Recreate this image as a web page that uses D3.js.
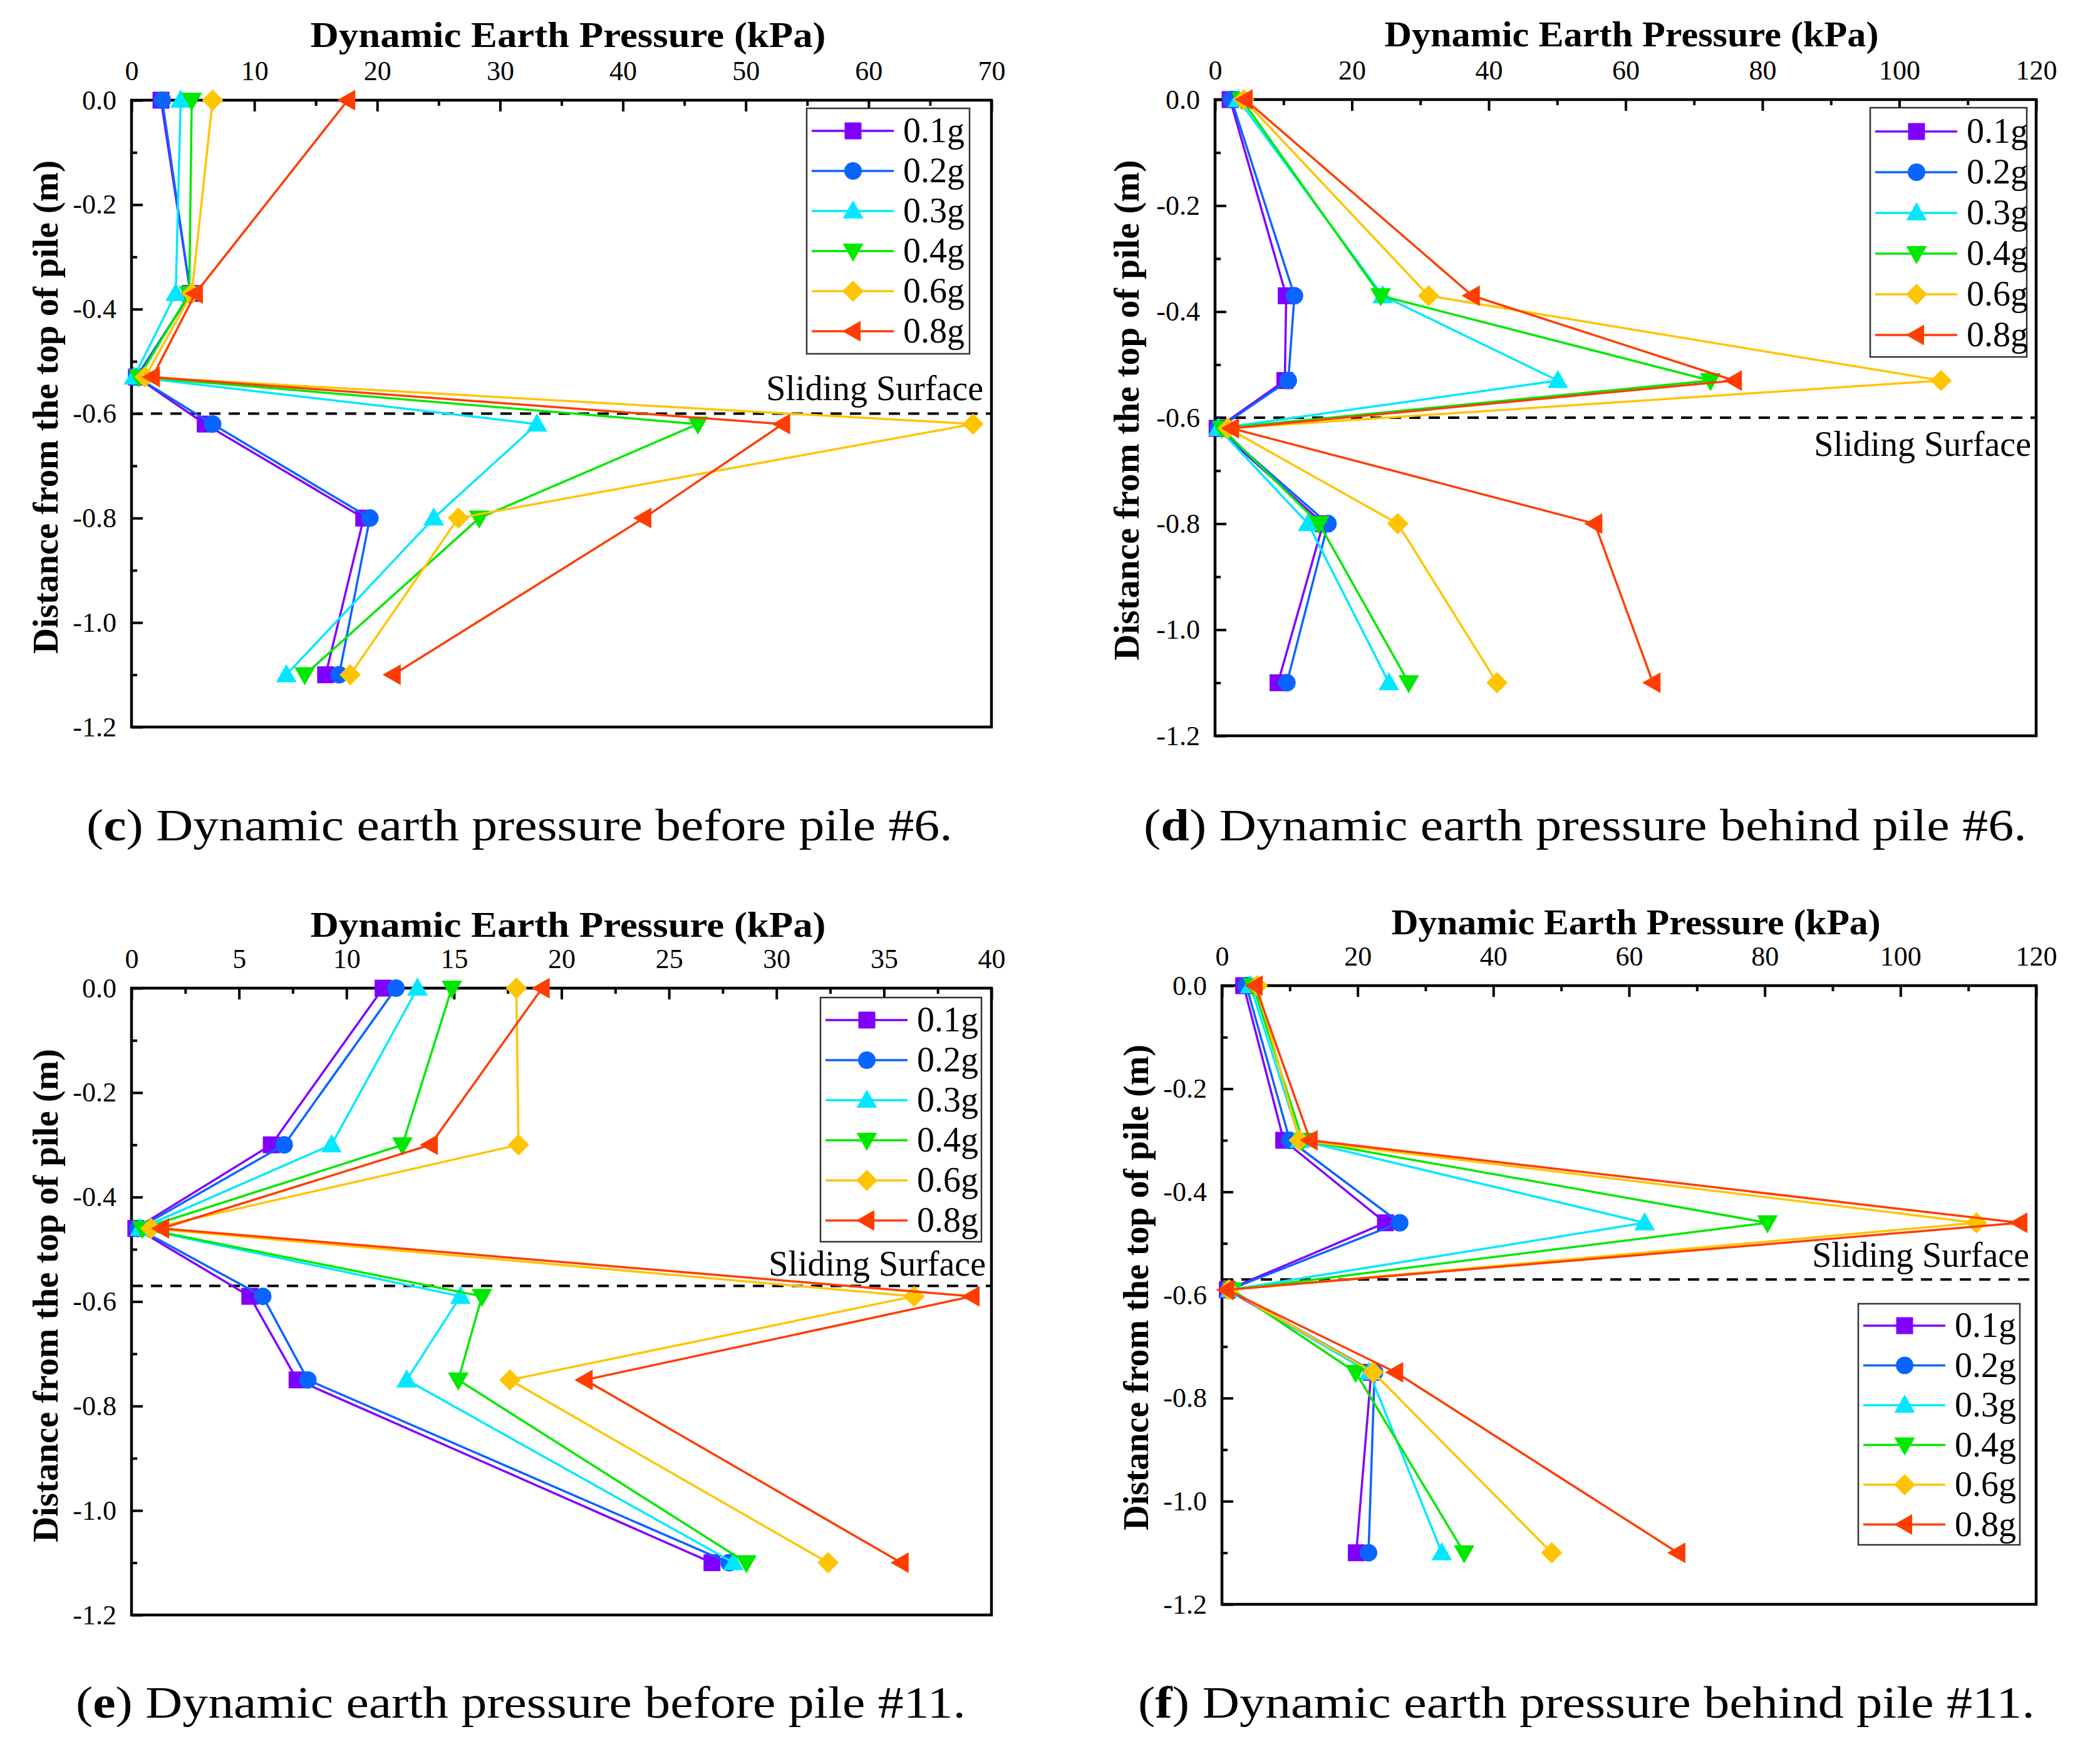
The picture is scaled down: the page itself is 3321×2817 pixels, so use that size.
<!DOCTYPE html>
<html><head><meta charset="utf-8">
<script src="https://cdn.jsdelivr.net/npm/d3@7"></script>
<style>html,body{margin:0;padding:0;background:#fff;} svg{display:block;}</style>
</head><body>
<svg id="chart" width="3321" height="2817"></svg>
<script>
// ---------- data ----------
const seriesNames = ["0.1g","0.2g","0.3g","0.4g","0.6g","0.8g"];
const seriesColors = ["#8000ff","#0a64ff","#00e8ff","#00e800","#ffc400","#ff3d00"];
const seriesSymbols = ["square","circle","triUp","triDown","diamond","triLeft"];

const yTicks = [0,-0.2,-0.4,-0.6,-0.8,-1.0,-1.2];
const yMinor = [-0.1,-0.3,-0.5,-0.7,-0.9,-1.1];

// (c) before pile #6
const xTicksC = [0,10,20,30,40,50,60,70];
const xMinorC = [5,15,25,35,45,55,65];
const depthsC = [0,-0.37,-0.53,-0.62,-0.8,-1.1];
const pressureC = [
  [2.4,4.8,0.4,6.0,18.9,15.8],
  [2.5,4.8,0.4,6.6,19.4,16.9],
  [4.0,3.6,0.2,33.0,24.6,12.6],
  [4.9,4.7,0.6,46.1,28.3,14.1],
  [6.6,4.9,1.1,68.5,26.6,17.8],
  [17.6,5.2,1.7,53.0,41.7,21.3]
];
const slidingC = -0.6;

// (d) behind pile #6
const xTicksD = [0,20,40,60,80,100,120];
const xMinorD = [10,30,50,70,90,110];
const depthsD = [0,-0.37,-0.53,-0.62,-0.8,-1.1];
const pressureD = [
  [2.2,10.4,10.2,0.3,15.8,9.2],
  [2.4,11.6,10.7,0.5,16.5,10.5],
  [3.4,24.5,50.1,0.5,13.6,25.4],
  [3.9,24.2,72.4,1.0,15.2,28.3],
  [4.2,31.2,106.1,1.9,26.7,41.2],
  [4.4,37.6,75.9,2.4,55.5,64.0]
];
const slidingD = -0.6;

// (e) before pile #11
const xTicksE = [0,5,10,15,20,25,30,35,40];
const xMinorE = [2.5,7.5,12.5,17.5,22.5,27.5,32.5,37.5];
const depthsE = [0,-0.3,-0.46,-0.59,-0.75,-1.1];
const pressureE = [
  [11.7,6.5,0.2,5.5,7.7,27.0],
  [12.3,7.1,0.3,6.1,8.2,27.8],
  [13.3,9.3,0.4,15.3,12.8,28.0],
  [14.9,12.6,0.5,16.3,15.2,28.6],
  [17.9,18.0,0.9,36.4,17.6,32.4],
  [19.1,13.9,1.4,39.1,21.1,35.8]
];
const slidingE = -0.57;

// (f) behind pile #11
const xTicksF = [0,20,40,60,80,100,120];
const xMinorF = [10,30,50,70,90,110];
const depthsF = [0,-0.3,-0.46,-0.59,-0.75,-1.1];
const pressureF = [
  [3.2,9.1,24.1,0.8,22.0,19.8],
  [3.6,10.0,26.2,1.0,22.5,21.6],
  [4.2,11.5,62.3,1.2,21.7,32.4],
  [4.6,11.9,80.4,1.5,19.7,35.7],
  [5.2,11.4,111.2,1.0,22.3,48.6],
  [4.9,13.0,117.6,0.7,25.6,67.2]
];
const slidingF = -0.57;

const xTitle = "Dynamic Earth Pressure (kPa)";
const yTitle = "Distance from the top of pile (m)";
const slidingLabel = "Sliding Surface";

// ---------- layout ----------
const SERIF = "'Liberation Serif','Times New Roman',serif";
const panels = [
  {ticks:xTicksC, minor:xMinorC, depths:depthsC, vals:pressureC, sliding:slidingC,
   x0:210, x1:1583, y0:160, y1:1161, titleX:907, titleY:75, titleW:823,
   yTitleX:72, yTitleY:650, yTitleW:788,
   legend:{x:1288,y:173,w:260,h:392,first:209,step:64},
   slide:{right:1570, dy:-22},
   caption:{letter:"c", text:") Dynamic earth pressure before pile #6.", left:138, right:1521, base:1342}},
  {ticks:xTicksD, minor:xMinorD, depths:depthsD, vals:pressureD, sliding:slidingD,
   x0:1940, x1:3251, y0:159, y1:1175, titleX:2605, titleY:74, titleW:789,
   yTitleX:1798, yTitleY:655, yTitleW:799,
   legend:{x:2986,y:172,w:250,h:398,first:210,step:65},
   slide:{right:3243, dy:61},
   caption:{letter:"d", text:") Dynamic earth pressure behind pile #6.", left:1826, right:3236, base:1342}},
  {ticks:xTicksE, minor:xMinorE, depths:depthsE, vals:pressureE, sliding:slidingE,
   x0:210, x1:1583, y0:1578, y1:2579, titleX:907, titleY:1496, titleW:823,
   yTitleX:72, yTitleY:2069, yTitleW:788,
   legend:{x:1310,y:1593,w:257,h:390,first:1629,step:64},
   slide:{right:1574, dy:-16},
   caption:{letter:"e", text:") Dynamic earth pressure before pile #11.", left:121, right:1542, base:2743}},
  {ticks:xTicksF, minor:xMinorF, depths:depthsF, vals:pressureF, sliding:slidingF,
   x0:1951, x1:3251, y0:1574, y1:2562, titleX:2612, titleY:1492, titleW:781,
   yTitleX:1813, yTitleY:2056, yTitleW:776,
   legend:{x:2967,y:2082,w:258,h:385,first:2117,step:63.5},
   slide:{right:3240, dy:-20},
   caption:{letter:"f", text:") Dynamic earth pressure behind pile #11.", left:1817, right:3249, base:2743}}
];

const svg = d3.select("#chart");

function symbolPath(kind){
  switch(kind){
    case "square": return "M-13.5,-13.5H13.5V13.5H-13.5Z";
    case "circle": return "M14,0A14,14 0 1,1 -14,0A14,14 0 1,1 14,0Z";
    case "triUp": return "M0,-17L16.5,12L-16.5,12Z";
    case "triDown": return "M0,17L16.5,-12L-16.5,-12Z";
    case "diamond": return "M0,-17L17,0L0,17L-17,0Z";
    case "triLeft": return "M-17,0L12,-16.5L12,16.5Z";
  }
}

function styleAxis(sel){
  sel.select(".domain").remove();
  sel.selectAll(".tick line").attr("stroke","#000").attr("stroke-width",4);
  sel.selectAll(".tick text").attr("fill","#000").attr("font-family",SERIF).attr("font-size",44);
}

panels.forEach(p => {
  const g = svg.append("g");
  const x = d3.scaleLinear().domain([p.ticks[0], p.ticks[p.ticks.length-1]]).range([p.x0,p.x1]);
  const y = d3.scaleLinear().domain([0,-1.2]).range([p.y0,p.y1]);

  // axes (ticks inward)
  g.append("g").attr("transform",`translate(0,${p.y0})`)
    .call(d3.axisTop(x).tickValues(p.minor).tickSize(-9).tickSizeOuter(0).tickFormat(""))
    .call(styleAxis);
  g.append("g").attr("transform",`translate(0,${p.y0})`)
    .call(d3.axisTop(x).tickValues(p.ticks).tickSize(-18).tickSizeOuter(0).tickPadding(32).tickFormat(d3.format("d")))
    .call(styleAxis);
  g.append("g").attr("transform",`translate(${p.x0},0)`)
    .call(d3.axisLeft(y).tickValues(yMinor).tickSize(-9).tickSizeOuter(0).tickFormat(""))
    .call(styleAxis);
  g.append("g").attr("transform",`translate(${p.x0},0)`)
    .call(d3.axisLeft(y).tickValues(yTicks).tickSize(-18).tickSizeOuter(0).tickPadding(24).tickFormat(d => d.toFixed(1)))
    .call(styleAxis);

  // frame
  g.append("rect").attr("x",p.x0).attr("y",p.y0).attr("width",p.x1-p.x0).attr("height",p.y1-p.y0)
    .attr("fill","none").attr("stroke","#000").attr("stroke-width",4.5);

  // sliding surface
  const ys = y(p.sliding);
  g.append("line").attr("x1",p.x0).attr("x2",p.x1).attr("y1",ys).attr("y2",ys)
    .attr("stroke","#000").attr("stroke-width",4).attr("stroke-dasharray","18,13");
  g.append("text").attr("x",p.slide.right).attr("y",ys+p.slide.dy)
    .attr("text-anchor","end").attr("font-family",SERIF).attr("font-size",56).attr("fill","#000")
    .text(slidingLabel);

  // series
  const line = d3.line().x(d => x(d[0])).y(d => y(d[1]));
  p.vals.forEach((vals,i) => {
    const pts = vals.map((v,k) => [v, p.depths[k]]);
    g.append("path").datum(pts).attr("d",line).attr("fill","none")
      .attr("stroke",seriesColors[i]).attr("stroke-width",3.5).attr("stroke-linejoin","round");
    g.selectAll(null).data(pts).enter().append("path")
      .attr("transform",d => `translate(${x(d[0])},${y(d[1])})`)
      .attr("d",symbolPath(seriesSymbols[i])).attr("fill",seriesColors[i]);
  });

  // titles
  g.append("text").attr("x",p.titleX).attr("y",p.titleY).attr("text-anchor","middle")
    .attr("font-family",SERIF).attr("font-weight","bold").attr("font-size",58)
    .attr("textLength",p.titleW).attr("lengthAdjust","spacingAndGlyphs").text(xTitle);
  g.append("text").attr("transform",`translate(${p.yTitleX},${p.yTitleY}) rotate(-90)`)
    .attr("text-anchor","middle").attr("dy","0.34em")
    .attr("font-family",SERIF).attr("font-weight","bold").attr("font-size",58)
    .attr("textLength",p.yTitleW).attr("lengthAdjust","spacingAndGlyphs").text(yTitle);

  // legend
  const L = p.legend;
  const lg = g.append("g");
  lg.append("rect").attr("x",L.x).attr("y",L.y).attr("width",L.w).attr("height",L.h)
    .attr("fill","#fff").attr("stroke","#333").attr("stroke-width",2.5);
  seriesNames.forEach((name,i) => {
    const yy = L.first + i*L.step;
    lg.append("line").attr("x1",L.x+8).attr("x2",L.x+139).attr("y1",yy).attr("y2",yy)
      .attr("stroke",seriesColors[i]).attr("stroke-width",3.5);
    lg.append("path").attr("transform",`translate(${L.x+74},${yy})`)
      .attr("d",symbolPath(seriesSymbols[i])).attr("fill",seriesColors[i]);
    lg.append("text").attr("x",L.x+154).attr("y",yy+18)
      .attr("font-family",SERIF).attr("font-size",56).attr("fill","#000").text(name);
  });

  // caption
  const C = p.caption;
  const cg = svg.append("g");
  const ct = cg.append("text").attr("x",0).attr("y",0)
    .attr("font-family",SERIF).attr("font-size",72).attr("fill","#000");
  ct.append("tspan").text("(");
  ct.append("tspan").attr("font-weight","bold").text(C.letter);
  ct.append("tspan").text(C.text);
  const w = ct.node().getBBox().width;
  const sx = (C.right - C.left) / w;
  cg.attr("transform",`translate(${C.left},${C.base}) scale(${sx},1)`);
});
</script>
</body></html>
